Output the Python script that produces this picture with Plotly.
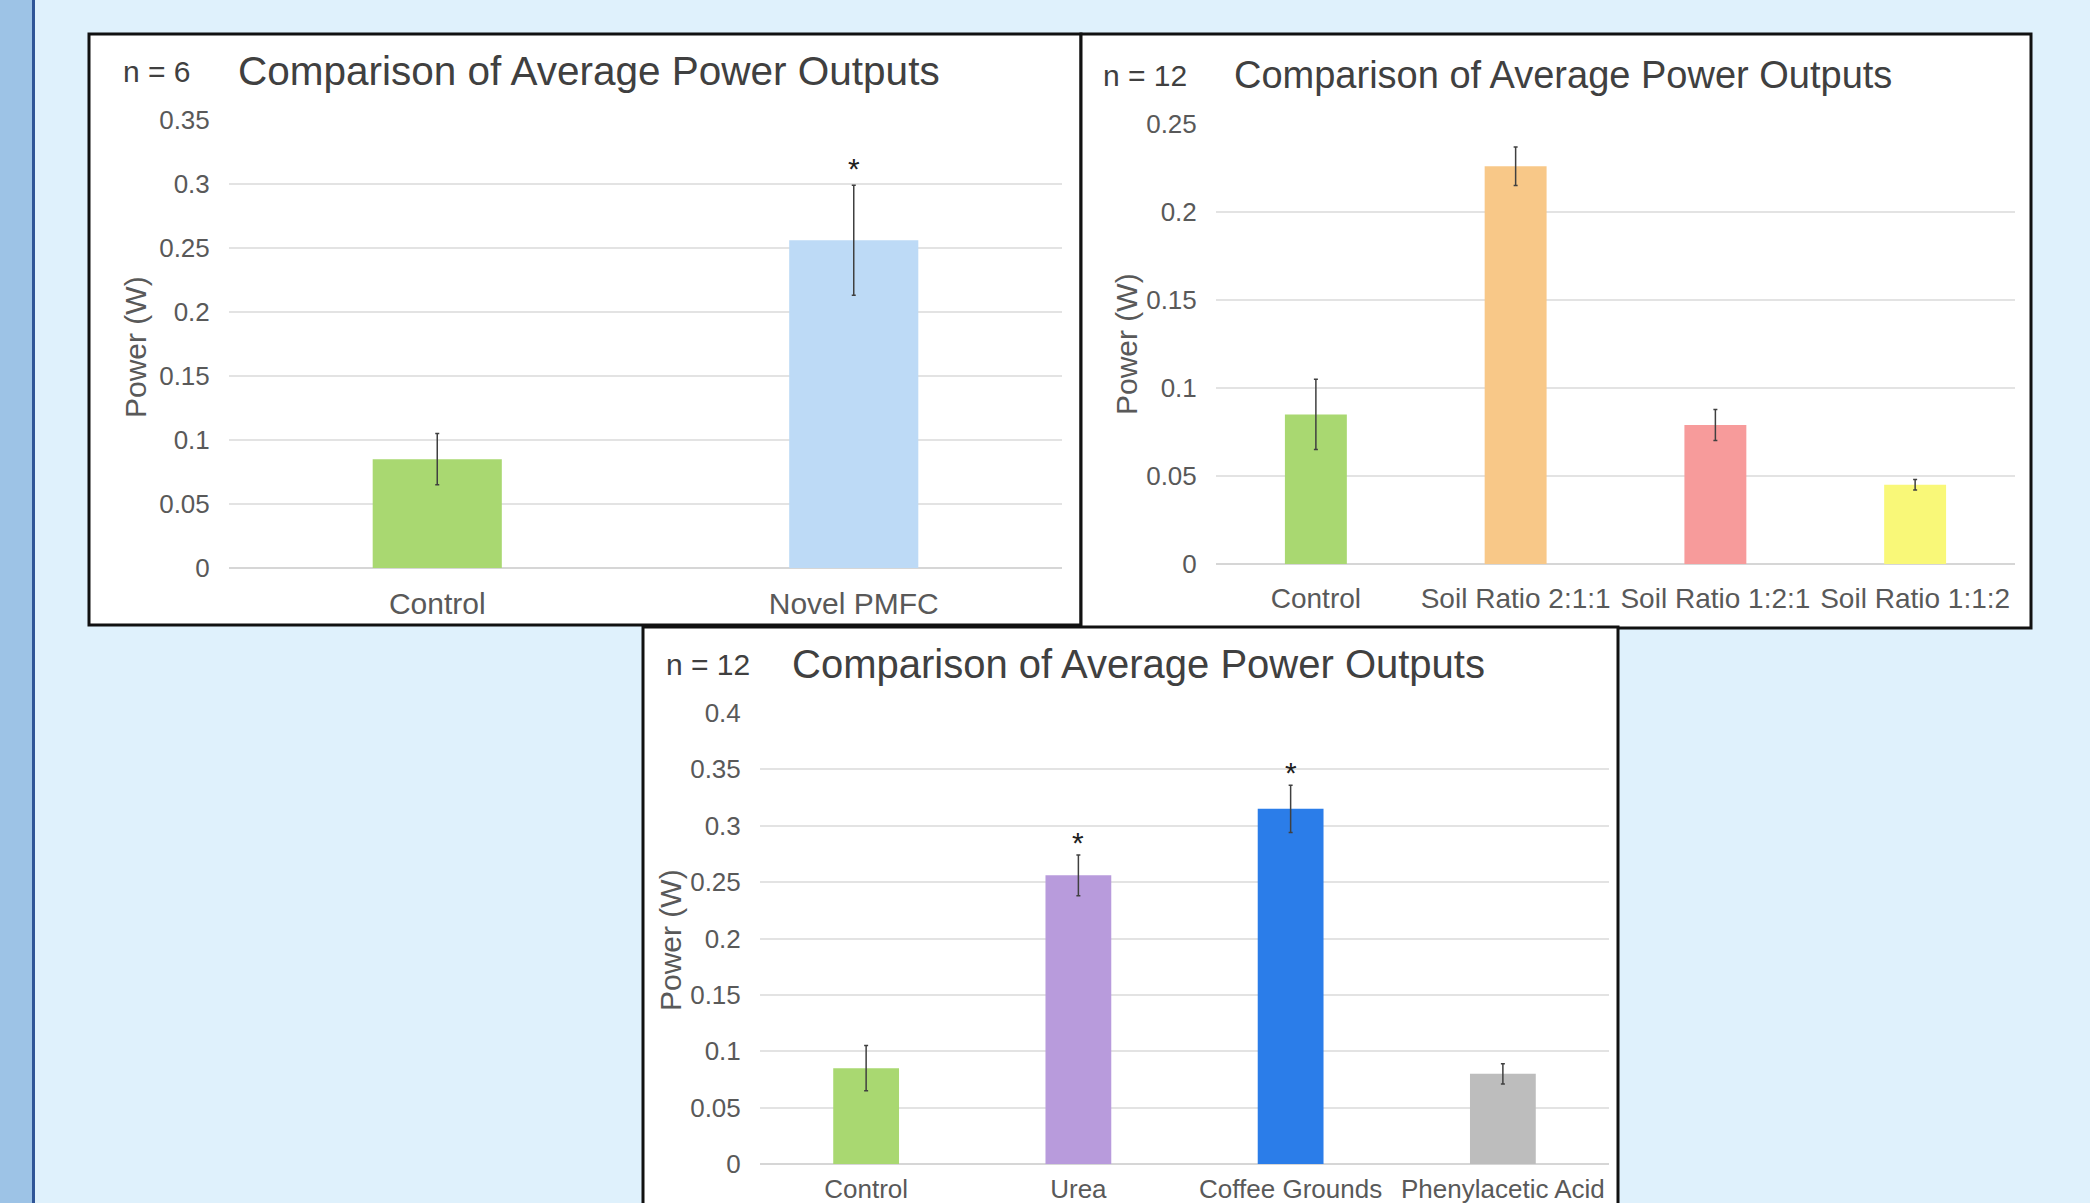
import plotly.graph_objects as go

W, H = 2090, 1203

# ---------------- data ----------------
p1_categories = ["Control", "Novel PMFC"]
p1_values = [0.085, 0.256]
p1_errors = [0.02, 0.043]
p1_colors = ["#A9D871", "#BDDAF6"]
p1_star_cats = ["Novel PMFC"]
p1_star_y = [0.312]

p2_categories = ["Control", "Soil Ratio 2:1:1", "Soil Ratio 1:2:1", "Soil Ratio 1:1:2"]
p2_values = [0.085, 0.226, 0.079, 0.045]
p2_errors = [0.02, 0.011, 0.0088, 0.003]
p2_colors = ["#A9D871", "#F8C888", "#F79B9B", "#F9F878"]

p3_categories = ["Control", "Urea", "Coffee Grounds", "Phenylacetic Acid"]
p3_values = [0.085, 0.256, 0.315, 0.080]
p3_errors = [0.02, 0.018, 0.021, 0.009]
p3_colors = ["#A9D871", "#B89BDC", "#2B7DE9", "#BDBDBD"]
p3_star_cats = ["Urea", "Coffee Grounds"]
p3_star_y = [0.285, 0.347]

p1_ticks = [0, 0.05, 0.1, 0.15, 0.2, 0.25, 0.3, 0.35]
p2_ticks = [0, 0.05, 0.1, 0.15, 0.2, 0.25]
p3_ticks = [0, 0.05, 0.1, 0.15, 0.2, 0.25, 0.3, 0.35, 0.4]

title_text = "Comparison of Average Power Outputs"
n_labels = ["n = 6", "n = 12", "n = 12"]
y_title = "Power (W)"

FONT = "Liberation Sans, Arial, sans-serif"
TXT = "#404040"
TICK = "#595959"


def px(x):
    return x / W


def py(y):
    return 1 - y / H


fig = go.Figure()

panels = [
    dict(cats=p1_categories, vals=p1_values, errs=p1_errors, cols=p1_colors,
         ticks=p1_ticks, rng=0.35, xd=(229, 1062), yd=(120, 568), ax="", tf=30, sd=9),
    dict(cats=p2_categories, vals=p2_values, errs=p2_errors, cols=p2_colors,
         ticks=p2_ticks, rng=0.25, xd=(1216, 2015), yd=(124, 564), ax="2", tf=28, sd=9),
    dict(cats=p3_categories, vals=p3_values, errs=p3_errors, cols=p3_colors,
         ticks=p3_ticks, rng=0.4, xd=(760, 1609), yd=(713, 1164), ax="3", tf=26, sd=2),
]

layout_axes = {}
for p in panels:
    fig.add_trace(go.Bar(
        x=p["cats"], y=p["vals"], marker=dict(color=p["cols"], line=dict(width=0)),
        error_y=dict(type="data", array=p["errs"], visible=True,
                     color="#404040", thickness=1.5, width=2),
        xaxis="x" + p["ax"], yaxis="y" + p["ax"], showlegend=False,
    ))
    xname = "xaxis" + p["ax"]
    yname = "yaxis" + p["ax"]
    layout_axes[xname] = dict(
        domain=[px(p["xd"][0]), px(p["xd"][1])], anchor="y" + p["ax"],
        type="category", showgrid=False, showline=False, zeroline=False,
        ticks="outside", ticklen=0, ticklabelstandoff=p["sd"], automargin=False,
        tickfont=dict(family=FONT, size=p["tf"], color=TICK), fixedrange=True,
    )
    layout_axes[yname] = dict(
        domain=[py(p["yd"][1]), py(p["yd"][0])], anchor="x" + p["ax"],
        range=[0, p["rng"]], tickvals=p["ticks"],
        ticktext=[("%g" % t) for t in p["ticks"]],
        showgrid=True, gridcolor="#E3E3E3", gridwidth=1.5,
        zeroline=True, zerolinecolor="#D6D6D6", zerolinewidth=1.5,
        showline=False, ticks="outside", ticklen=0, ticklabelstandoff=13,
        automargin=False,
        tickfont=dict(family=FONT, size=26, color=TICK), fixedrange=True,
    )

# asterisks
for cat, yv in zip(p1_star_cats, p1_star_y):
    fig.add_annotation(x=cat, y=yv, xref="x", yref="y", text="*", showarrow=False,
                       font=dict(family=FONT, size=30, color="#202020"), yanchor="middle")
for cat, yv in zip(p3_star_cats, p3_star_y):
    fig.add_annotation(x=cat, y=yv, xref="x3", yref="y3", text="*", showarrow=False,
                       font=dict(family=FONT, size=30, color="#202020"), yanchor="middle")

# titles, n labels, y titles
title_pos = [(236, 71, 40.5), (1232, 75, 38), (790, 664, 40)]
n_pos = [(121, 71), (1101, 75), (664, 664)]
ytitle_pos = [(135, 347), (1126, 344), (670, 940)]
for (tx, ty, ts), (nx, ny), (yx, yy), nl in zip(title_pos, n_pos, ytitle_pos, n_labels):
    fig.add_annotation(x=px(tx), y=py(ty), xref="paper", yref="paper", text=title_text,
                       showarrow=False, xanchor="left", yanchor="middle",
                       font=dict(family=FONT, size=ts, color=TXT))
    fig.add_annotation(x=px(nx), y=py(ny), xref="paper", yref="paper", text=nl,
                       showarrow=False, xanchor="left", yanchor="middle",
                       font=dict(family=FONT, size=30, color=TXT))
    fig.add_annotation(x=px(yx), y=py(yy), xref="paper", yref="paper", text=y_title,
                       showarrow=False, textangle=-90, xanchor="center", yanchor="middle",
                       font=dict(family=FONT, size=30, color=TICK))

# background shapes
shapes = [
    dict(type="rect", xref="paper", yref="paper", x0=0, x1=px(32), y0=0, y1=1,
         fillcolor="#9DC3E6", line=dict(width=0), layer="below"),
    dict(type="rect", xref="paper", yref="paper", x0=px(32), x1=px(35), y0=0, y1=1,
         fillcolor="#2F5597", line=dict(width=0), layer="below"),
]
panel_boxes = [(89, 34, 1081, 625), (1081, 34, 2031, 628), (643, 627, 1618, 1215)]
for (x0, y0, x1, y1) in panel_boxes:
    shapes.append(dict(type="rect", xref="paper", yref="paper",
                       x0=px(x0), x1=px(x1), y0=py(y1), y1=py(y0),
                       fillcolor="white", line=dict(color="#111111", width=3), layer="below"))

fig.update_layout(
    width=W, height=H, margin=dict(l=0, r=0, t=0, b=0, autoexpand=False),
    paper_bgcolor="#DFF1FC", plot_bgcolor="rgba(0,0,0,0)",
    bargap=0.69, shapes=shapes, showlegend=False, **layout_axes,
)

fig.write_html("out.html", config={"displayModeBar": False})
